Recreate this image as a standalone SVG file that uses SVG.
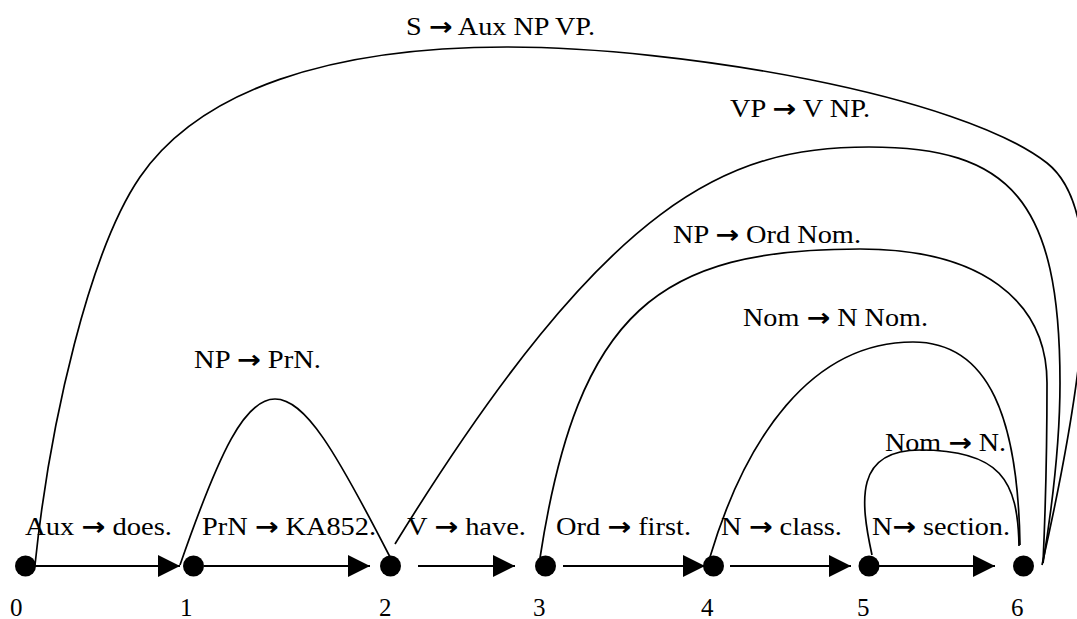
<svg xmlns="http://www.w3.org/2000/svg" width="1077" height="619" viewBox="0 0 1077 619">
<style>
text{font-family:'Liberation Serif','Times New Roman',Times,'DejaVu Serif',serif;font-size:25px;fill:#000}
.ar{font-family:'DejaVu Sans',sans-serif;font-weight:bold;font-size:25px}
.arc{fill:none;stroke:#000;stroke-width:1.7}
.edge{fill:none;stroke:#000;stroke-width:2}
.node{fill:#000}
</style>
<defs>
<marker id="ah" markerUnits="userSpaceOnUse" markerWidth="23" markerHeight="23" refX="22" refY="11" orient="auto">
<path d="M0,0 L22,11 L0,22 Z" fill="#000"/>
</marker>
</defs>
<rect width="1077" height="619" fill="#fff"/>
<g id="connectors">
<line class="edge" x1="35" y1="566" x2="180" y2="566" marker-end="url(#ah)"/>
<line class="edge" x1="204" y1="566" x2="370" y2="566" marker-end="url(#ah)"/>
<line class="edge" x1="418" y1="566" x2="515" y2="566" marker-end="url(#ah)"/>
<line class="edge" x1="563" y1="566" x2="705" y2="566" marker-end="url(#ah)"/>
<line class="edge" x1="730" y1="566" x2="851" y2="566" marker-end="url(#ah)"/>
<line class="edge" x1="879" y1="566" x2="995" y2="566" marker-end="url(#ah)"/>
<path class="arc" d="M35,565 C50,420 90,250 140,177 C200,90 330,47 507,47 C680,47 960,95 1047,163 C1100,205 1095,330 1042,565"/>
<path class="arc" d="M395,544 C610,195 730,147 869,147 C1010,147 1060,200 1060,383 C1060,450 1050,520 1043,563"/>
<path class="arc" d="M540,558 C578,310 660,249 860,249 C980,249 1047,300 1047,383 C1047,450 1045,520 1043,563"/>
<path class="arc" d="M710,557 C745,440 810,342 913,342 C990,342 1018,420 1020,545"/>
<path class="arc" d="M872,555 C860,500 855,450 920,450 C1000,450 1018,480 1019,546"/>
<path class="arc" d="M180,565 C220,450 245,399 275,399 C305,399 335,450 390,557"/>
<text x="406" y="35" textLength="189" lengthAdjust="spacingAndGlyphs">S <tspan class="ar">→</tspan> Aux NP VP.</text>
<text x="730" y="117" textLength="140" lengthAdjust="spacingAndGlyphs">VP <tspan class="ar">→</tspan> V NP.</text>
<text x="673" y="243" textLength="188" lengthAdjust="spacingAndGlyphs">NP <tspan class="ar">→</tspan> Ord Nom.</text>
<text x="743" y="326" textLength="185" lengthAdjust="spacingAndGlyphs">Nom <tspan class="ar">→</tspan> N Nom.</text>
<text x="194" y="368" textLength="127" lengthAdjust="spacingAndGlyphs">NP <tspan class="ar">→</tspan> PrN.</text>
<text x="885" y="451" textLength="121" lengthAdjust="spacingAndGlyphs">Nom <tspan class="ar">→</tspan> N.</text>
<text x="25" y="535" textLength="147" lengthAdjust="spacingAndGlyphs">Aux <tspan class="ar">→</tspan> does.</text>
<text x="202" y="535" textLength="174" lengthAdjust="spacingAndGlyphs">PrN <tspan class="ar">→</tspan> KA852.</text>
<text x="407" y="535" textLength="119" lengthAdjust="spacingAndGlyphs">V <tspan class="ar">→</tspan> have.</text>
<text x="556" y="535" textLength="135" lengthAdjust="spacingAndGlyphs">Ord <tspan class="ar">→</tspan> first.</text>
<text x="721" y="535" textLength="121" lengthAdjust="spacingAndGlyphs">N <tspan class="ar">→</tspan> class.</text>
<text x="872" y="535" textLength="138" lengthAdjust="spacingAndGlyphs">N<tspan class="ar">→</tspan> section.</text>
</g>
<g id="node0"><circle class="node" cx="25.5" cy="566" r="10.5"/><text x="10" y="616">0</text></g>
<g id="node1"><circle class="node" cx="193.5" cy="566" r="10.5"/><text x="180" y="616">1</text></g>
<g id="node2"><circle class="node" cx="390.5" cy="566" r="10.5"/><text x="379" y="616">2</text></g>
<g id="node3"><circle class="node" cx="545.5" cy="566" r="10.5"/><text x="533" y="616">3</text></g>
<g id="node4"><circle class="node" cx="713.5" cy="566" r="10.5"/><text x="701" y="616">4</text></g>
<g id="node5"><circle class="node" cx="869" cy="566" r="10.5"/><text x="857" y="616">5</text></g>
<g id="node6"><circle class="node" cx="1023.5" cy="566" r="10.5"/><text x="1011" y="616">6</text></g>
</svg>
